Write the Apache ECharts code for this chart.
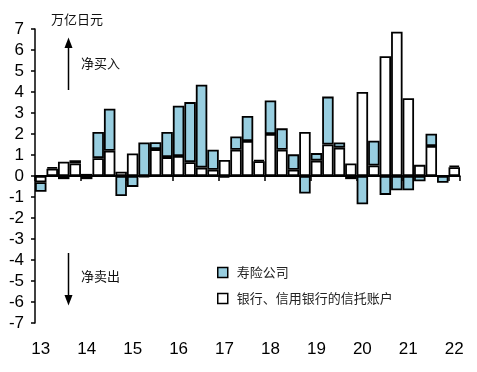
<!DOCTYPE html>
<html>
<head>
<meta charset="utf-8">
<script src="https://cdn.jsdelivr.net/npm/echarts@6/dist/echarts.min.js"></script>
<style>
html,body{margin:0;padding:0;background:#fff;}
#chart{width:477px;height:372px;}
</style>
</head>
<body>
<div id="chart"></div>
<script>
// Quarterly categories 2013Q1 .. 2022Q1
var categories = [];
for (var y = 13; y <= 22; y++) {
  for (var q = 1; q <= 4; q++) {
    if (y === 22 && q > 1) break;
    categories.push(y + 'Q' + q);
  }
}
var yearLabels = ['13','14','15','16','17','18','19','20','21','22'];

// 银行、信用银行的信托账户 (white)
var trustValues = [-0.3,0.35,0.68,0.6,0.1,0.85,1.2,0.2,1.07,-0.05,1.28,0.9,0.95,0.66,0.4,0.3,0.76,1.25,1.67,0.7,2.0,1.25,0.3,2.1,0.73,1.5,1.35,0.6,4.0,0.5,5.7,6.87,3.7,0.53,1.43,0.02,0.42];
// 寿险公司 (blue)
var lifeValues = [-0.45,0.07,-0.15,0.15,-0.15,1.25,2.0,-0.95,-0.52,1.6,0.33,1.2,2.4,2.86,3.95,0.95,-0.08,0.63,1.19,0.07,1.6,1.02,0.73,-0.83,0.36,2.28,0.25,-0.15,-1.35,1.18,-0.9,-0.68,-0.68,-0.25,0.58,-0.32,0.08];

var numFont = '"Liberation Sans", Arial, sans-serif';
var cjkFont = '"Noto Sans CJK SC", "Liberation Sans", sans-serif';

var chart = echarts.init(document.getElementById('chart'));
chart.setOption({
  animation: false,
  backgroundColor: '#fff',
  grid: {left: 35, right: 17, top: 29, bottom: 49, containLabel: false},
  legend: {
    orient: 'vertical',
    left: 217,
    top: 265,
    padding: 0,
    itemWidth: 10,
    itemHeight: 10,
    itemGap: 11,
    icon: 'rect',
    data: ['寿险公司', '银行、信用银行的信托账户'],
    textStyle: {fontFamily: cjkFont, fontSize: 13, color: '#222', lineHeight: 15, padding: [0,0,0,4]},
    itemStyle: {borderColor: '#000', borderWidth: 1.5}
  },
  xAxis: {
    type: 'category',
    data: categories,
    boundaryGap: true,
    axisLine: {lineStyle: {color: '#000', width: 1.5}},
    axisTick: {show: true, interval: 3, length: 5, lineStyle: {color: '#000', width: 1.5}},
    axisLabel: {
      interval: 3,
      margin: 18,
      fontFamily: numFont,
      fontSize: 17,
      color: '#000',
      formatter: function (v, i) { return yearLabels[Math.floor(i / 4)]; }
    },
    splitLine: {show: false}
  },
  yAxis: {
    type: 'value',
    min: -7,
    max: 7,
    interval: 1,
    axisLine: {show: true, lineStyle: {color: '#000', width: 1.5}},
    axisTick: {show: true, length: 4, lineStyle: {color: '#000', width: 1.5}},
    axisLabel: {margin: 11, fontFamily: numFont, fontSize: 17, color: '#000'},
    splitLine: {show: false}
  },
  series: [
    {
      name: '银行、信用银行的信托账户',
      type: 'bar',
      stack: 'total',
      data: trustValues,
      barCategoryGap: '0%',
      itemStyle: {color: '#ffffff', borderColor: '#000', borderWidth: 1.8}
    },
    {
      name: '寿险公司',
      type: 'bar',
      stack: 'total',
      data: lifeValues,
      barCategoryGap: '0%',
      itemStyle: {color: '#98cee0', borderColor: '#000', borderWidth: 1.8},
      markLine: {
        silent: true,
        symbol: 'none',
        label: {show: false},
        lineStyle: {color: '#000', width: 2, type: 'solid'},
        data: [{yAxis: 0}]
      }
    }
  ],
  graphic: [
    {type: 'text', left: 51, top: 13, style: {text: '万亿日元', font: '13px ' + cjkFont, fill: '#111'}},
    {type: 'text', left: 81, top: 57, style: {text: '净买入', font: '13px ' + cjkFont, fill: '#111'}},
    {type: 'text', left: 81, top: 270, style: {text: '净卖出', font: '13px ' + cjkFont, fill: '#111'}},
    {type: 'line', shape: {x1: 68.5, y1: 90, x2: 68.5, y2: 46}, style: {stroke: '#000', lineWidth: 1.5}},
    {type: 'polygon', shape: {points: [[68.5, 37.5], [64.5, 48], [72.5, 48]]}, style: {fill: '#000'}},
    {type: 'line', shape: {x1: 68.5, y1: 253, x2: 68.5, y2: 297}, style: {stroke: '#000', lineWidth: 1.5}},
    {type: 'polygon', shape: {points: [[68.5, 305.5], [64.5, 295], [72.5, 295]]}, style: {fill: '#000'}}
  ]
});
</script>
</body>
</html>
